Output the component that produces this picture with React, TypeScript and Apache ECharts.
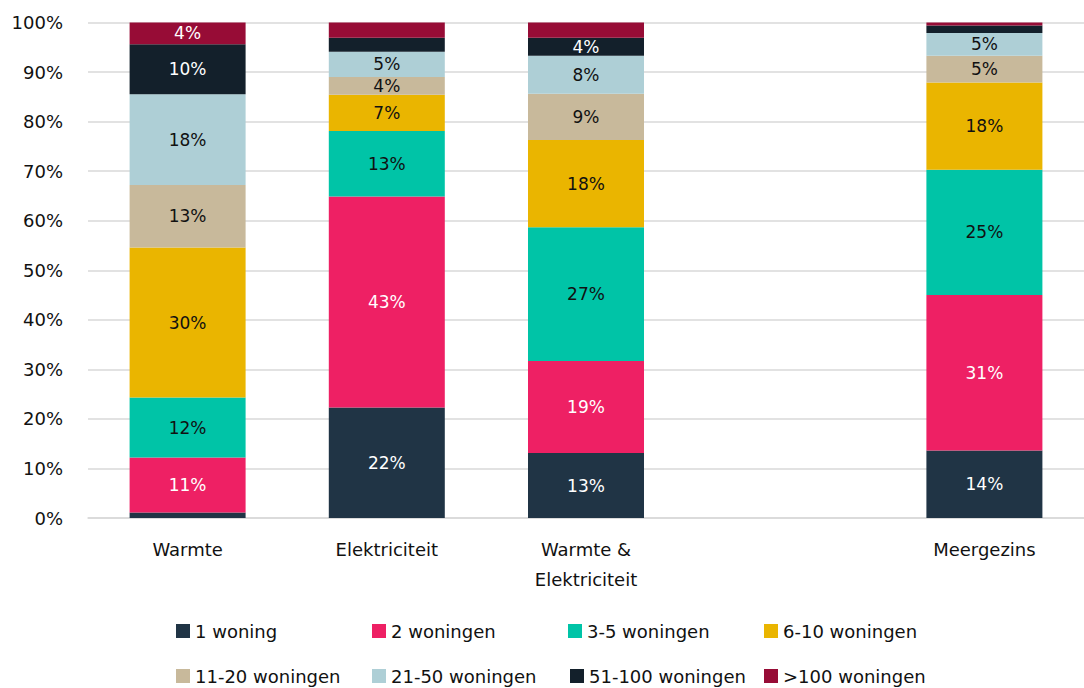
import React, { useEffect, useRef } from "react";
import * as echarts from "echarts";

const categories = ["Warmte", "Elektriciteit", "Warmte &\nElektriciteit", "", "Meergezins"];
const seriesNames = [
  "1 woning",
  "2 woningen",
  "3-5 woningen",
  "6-10 woningen",
  "11-20 woningen",
  "21-50 woningen",
  "51-100 woningen",
  ">100 woningen",
];
const colors = ["#203445", "#EE2064", "#00C4A7", "#EAB500", "#C8B99B", "#AECFD6", "#13202B", "#970C36"];
const labelColors = ["#ffffff", "#ffffff", "#111111", "#111111", "#111111", "#111111", "#ffffff", "#ffffff"];

// values per series, per category (Warmte, Elektriciteit, W&E, empty, Meergezins)
const v1Woning = [1.1, 22.3, 13.1, null, 13.6];
const v2Woningen = [11.1, 42.6, 18.6, null, 31.4];
const v3to5 = [12.1, 13.2, 27.0, null, 25.3];
const v6to10 = [30.3, 7.3, 17.6, null, 17.6];
const v11to20 = [12.6, 3.6, 9.3, null, 5.4];
const v21to50 = [18.3, 5.1, 7.7, null, 4.6];
const v51to100 = [10.1, 2.8, 3.6, null, 1.5];
const vOver100 = [4.4, 3.1, 3.1, null, 0.6];
const seriesValues = [v1Woning, v2Woningen, v3to5, v6to10, v11to20, v21to50, v51to100, vOver100];

const yTicks = [0, 10, 20, 30, 40, 50, 60, 70, 80, 90, 100];

const legendX = [176, 372, 568, 764, 176, 372, 570, 764];
const legendY = [622, 622, 622, 622, 667, 667, 667, 667];

const FONT = "DejaVu Sans";

export default function App() {
  const ref = useRef<HTMLDivElement>(null);
  useEffect(() => {
    document.body.style.margin = "0";
    if (!ref.current) return;
    const chart = echarts.init(ref.current, null, { renderer: "svg" });
    const option: any = {
      animation: false,
      backgroundColor: "#ffffff",
      grid: { left: 88, top: 22.5, width: 1007.5, bottom: 170, containLabel: false },
      legend: seriesNames.map((n, i) => ({
        data: [n],
        left: legendX[i],
        top: legendY[i],
        itemWidth: 14,
        itemHeight: 14,
        itemGap: 0,
        padding: 0,
        icon: "rect",
        selectedMode: false,
        textStyle: { fontFamily: FONT, fontSize: 18, color: "#111" },
      })),
      xAxis: {
        type: "category",
        data: categories,
        axisTick: { show: false },
        axisLine: { lineStyle: { color: "#D9D9D9", width: 1.5 } },
        axisLabel: {
          fontFamily: FONT,
          fontSize: 18,
          color: "#111",
          margin: 16,
          lineHeight: 30,
          interval: 0,
        },
      },
      yAxis: {
        type: "value",
        min: 0,
        max: 100,
        interval: 10,
        axisLine: { show: false },
        axisTick: { show: false },
        splitLine: { lineStyle: { color: "#D9D9D9", width: 1.5 } },
        axisLabel: {
          fontFamily: FONT,
          fontSize: 18,
          color: "#111",
          margin: 25,
          formatter: (v: number) => (yTicks.includes(v) ? v + "%" : ""),
        },
      },
      series: seriesNames.map((n, i) => ({
        name: n,
        type: "bar",
        stack: "total",
        barWidth: 116,
        data: seriesValues[i],
        itemStyle: { color: colors[i] },
        label: {
          show: true,
          position: "inside",
          fontFamily: FONT,
          fontSize: 17,
          color: labelColors[i],
          formatter: (p: any) => (p.value >= 3.4 ? Math.round(p.value) + "%" : ""),
        },
      })),
    };
    chart.setOption(option);
    return () => chart.dispose();
  }, []);
  return <div ref={ref} style={{ width: 1084, height: 688 }} />;
}
